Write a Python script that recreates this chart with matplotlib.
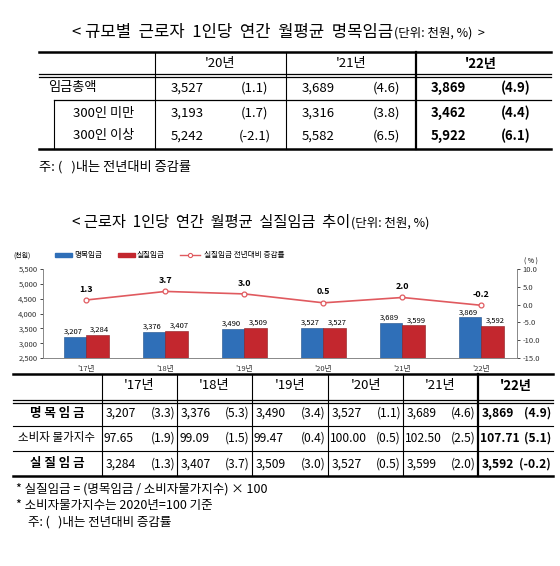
import matplotlib
matplotlib.use("Agg")
import matplotlib.pyplot as plt
from matplotlib.lines import Line2D
import numpy as np

plt.rcParams['font.family'] = ['Noto Sans CJK KR', 'DejaVu Sans']

W, H = 560, 566
fig = plt.figure(figsize=(W/100, H/100), dpi=100)

def T(x, y, s, size=9, ha='center', bold=False, **kw):
    fig.text(x/W, 1-y/H, s, fontsize=size, ha=ha, va='center',
             fontweight='bold' if bold else 'normal', **kw)

def L(x0, y0, x1, y1, lw=1.0, c='black'):
    fig.add_artist(Line2D([x0/W, x1/W], [1-y0/H, 1-y1/H], lw=lw, color=c))

# ---------- Table 1 data ----------
t1_years = ["'20년", "'21년", "'22년"]
t1_rows = ["임금총액", "300인 미만", "300인 이상"]
t1_vals = [["3,527", "3,689", "3,869"], ["3,193", "3,316", "3,462"], ["5,242", "5,582", "5,922"]]
t1_pcts = [["(1.1)", "(4.6)", "(4.9)"], ["(1.7)", "(3.8)", "(4.4)"], ["(-2.1)", "(6.5)", "(6.1)"]]

# ---------- Chart data ----------
years = ["'17년", "'18년", "'19년", "'20년", "'21년", "'22년"]
nominal = [3207, 3376, 3490, 3527, 3689, 3869]
real = [3284, 3407, 3509, 3527, 3599, 3592]
real_growth = [1.3, 3.7, 3.0, 0.5, 2.0, -0.2]
nominal_growth = [3.3, 5.3, 3.4, 1.1, 4.6, 4.9]
cpi = ["97.65", "99.09", "99.47", "100.00", "102.50", "107.71"]
cpi_growth = [1.9, 1.5, 0.4, 0.5, 2.5, 5.1]

# ---------- Table 1 ----------
T(393, 32, "< 규모별  근로자  1인당  연간  월평균  명목임금", size=12, ha='right')
T(394, 33, "(단위: 천원, %)  >", size=9, ha='left')
L(39, 52, 551, 52, lw=1.8)
L(39, 74, 551, 74, lw=0.9); L(39, 77, 551, 77, lw=0.9)
L(54, 100, 551, 100, lw=0.9)
L(39, 149, 551, 149, lw=1.8)
for x in [155, 286]:
    L(x, 52, x, 149, lw=0.8)
L(416, 52, 416, 149, lw=1.6)
L(54, 100, 54, 149, lw=0.8)
colL = [155, 286, 416]
for j, yr in enumerate(t1_years):
    T(colL[j]+65, 64, yr, size=9.5, bold=(j == 2))
rowy = [88, 113, 136]
T(72, rowy[0], t1_rows[0], size=9.5)
T(104, rowy[1], t1_rows[1], size=9.5)
T(104, rowy[2], t1_rows[2], size=9.5)
for i in range(3):
    for j in range(3):
        T(colL[j]+32, rowy[i], t1_vals[i][j], size=9.5, bold=(j == 2))
        T(colL[j]+100, rowy[i], t1_pcts[i][j], size=9.5, bold=(j == 2))
T(39, 167, "주: (   )내는 전년대비 증감률", size=9.5, ha='left')

# ---------- Chart ----------
T(350, 222, "< 근로자  1인당  연간  월평균  실질임금  추이", size=11, ha='right')
T(351, 223, "(단위: 천원, %)", size=9, ha='left')

ax = fig.add_axes([43/W, 1-358/H, (517-43)/W, (358-269)/H])
x = np.arange(len(years))
bw = 0.28
ax.bar(x-bw/2, [v-2500 for v in nominal], bw, bottom=2500, color='#2F6FB8', edgecolor='#1F4F8A', lw=0.4)
ax.bar(x+bw/2, [v-2500 for v in real], bw, bottom=2500, color='#C3272E', edgecolor='#8A1A1F', lw=0.4)
ax.set_ylim(2500, 5500)
ax.set_xlim(-0.55, 5.45)
ax.set_yticks(np.arange(2500, 5501, 500))
ax.set_yticklabels([f"{v:,}" for v in range(2500, 5501, 500)], fontsize=5.5, color='#333333')
ax.set_xticks(x)
ax.set_xticklabels(years, fontsize=5.5, color='#333333')
ax.tick_params(axis='x', length=0, pad=5)
ax.tick_params(axis='y', length=2, pad=2, width=0.5)
ax.spines['top'].set_visible(False)
for s in ['left', 'right', 'bottom']:
    ax.spines[s].set_color('#888888'); ax.spines[s].set_linewidth(0.6)
for i in range(len(years)):
    ax.text(x[i]-bw/2-0.03, nominal[i]+40, f"{nominal[i]:,}", fontsize=5.5, ha='center', va='bottom')
    ax.text(x[i]+bw/2+0.03, real[i]+40, f"{real[i]:,}", fontsize=5.5, ha='center', va='bottom')
ax2 = ax.twinx()
ax2.plot(x, real_growth, color='#E05A5F', lw=1.2, marker='o', ms=3.5, mfc='white', mec='#E05A5F', mew=0.9)
ax2.set_ylim(-15, 10)
ax2.set_yticks(np.arange(-15, 10.1, 5))
ax2.set_yticklabels([f"{v:.1f}" for v in np.arange(-15, 10.1, 5)], fontsize=5.5, color='#333333')
ax2.tick_params(axis='y', length=2, pad=2, width=0.5)
ax2.spines['top'].set_visible(False)
for s in ['left', 'right', 'bottom']:
    ax2.spines[s].set_color('#888888'); ax2.spines[s].set_linewidth(0.6)
for i in range(len(years)):
    ax2.text(x[i], real_growth[i]+1.8, f"{real_growth[i]:.1f}", fontsize=6.5, fontweight='bold', ha='center', va='bottom')
T(22, 256, "(천원)", size=5)
T(531, 262, "( % )", size=5)
fig.add_artist(plt.Rectangle((55/W, 1-257/H), 17/W, 4/H, color='#2F6FB8'))
T(74, 255, "명목임금", size=5.5, ha='left')
fig.add_artist(plt.Rectangle((118/W, 1-257/H), 17/W, 4/H, color='#C3272E'))
T(137, 255, "실질임금", size=5.5, ha='left')
fig.add_artist(Line2D([180/W, 200/W], [1-255/H]*2, color='#E05A5F', lw=1))
fig.add_artist(Line2D([190/W], [1-255/H], color='#E05A5F', marker='o', ms=3, mfc='white', mew=0.8))
T(204, 255, "실질임금 전년대비 증감률", size=5.5, ha='left')

# ---------- Table 2 ----------
L(13, 374, 553, 374, lw=1.8)
L(13, 400, 553, 400, lw=0.9); L(13, 403, 553, 403, lw=0.9)
L(13, 426, 553, 426, lw=0.8)
L(13, 451, 553, 451, lw=0.8)
L(13, 476, 553, 476, lw=1.8)
cols = [102, 177, 252, 328, 403, 478, 553]
for k, cx in enumerate(cols[:-1]):
    L(cx, 374, cx, 476, lw=1.6 if k == 5 else 0.8)
for j, yr in enumerate(years):
    T((cols[j]+cols[j+1])/2, 386, yr, size=9.5, bold=(j == 5))
ry = [413, 438, 464]
T(57, ry[0], "명 목 임 금", size=9, bold=True)
T(57, ry[1], "소비자 물가지수", size=8.3)
T(57, ry[2], "실 질 임 금", size=9, bold=True)
for j in range(6):
    b = (j == 5)
    l, r = cols[j], cols[j+1]
    T(l+4, ry[0], f"{nominal[j]:,}", size=8.7, ha='left', bold=b)
    T(r-2, ry[0], f"({nominal_growth[j]:.1f})", size=8.7, ha='right', bold=b)
    T(l+2, ry[1], cpi[j], size=8.7, ha='left', bold=b)
    T(r-2, ry[1], f"({cpi_growth[j]:.1f})", size=8.7, ha='right', bold=b)
    T(l+4, ry[2], f"{real[j]:,}", size=8.7, ha='left', bold=b)
    T(r-2, ry[2], f"({real_growth[j]:.1f})", size=8.7, ha='right', bold=b)
T(16, 489, "* 실질임금 = (명목임금 / 소비자물가지수) × 100", size=9, ha='left')
T(16, 506, "* 소비자물가지수는 2020년=100 기준", size=9, ha='left')
T(28, 522, "주: (   )내는 전년대비 증감률", size=9, ha='left')

fig.savefig("out.png", dpi=100, facecolor='white')
